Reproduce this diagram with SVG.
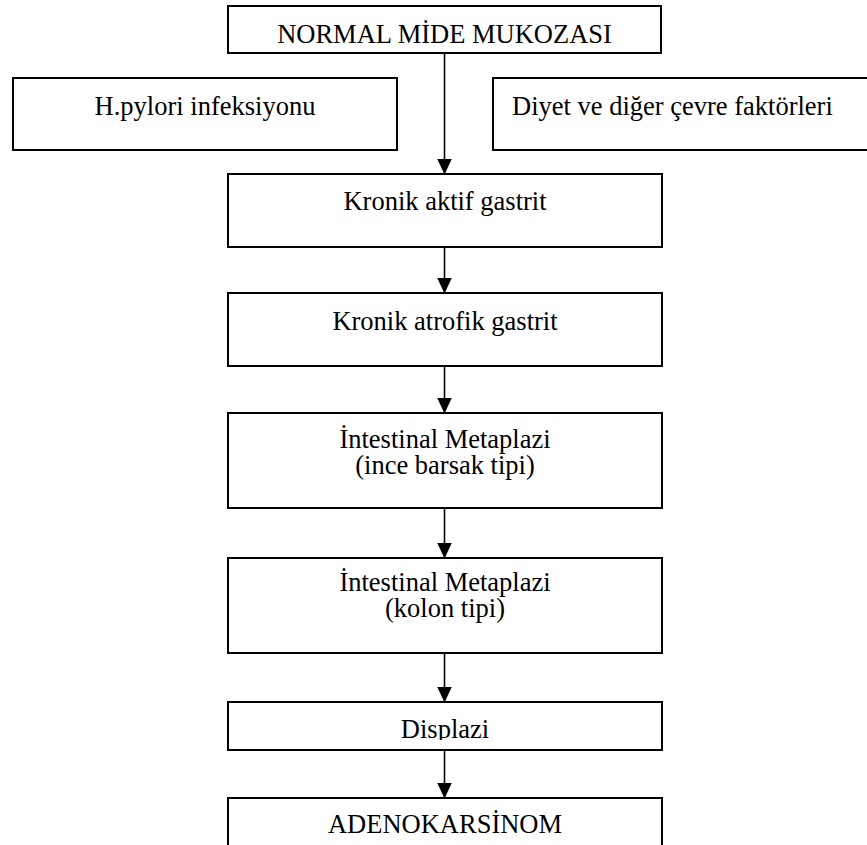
<svg xmlns="http://www.w3.org/2000/svg" width="867" height="845" viewBox="0 0 867 845">
<style>
.box{fill:#fff;stroke:#000;stroke-width:2}
.t{font-family:"Liberation Serif","Times New Roman",serif;font-size:26.5px;fill:#000;text-anchor:middle}
.c{stroke:#000;stroke-width:1.6;fill:none}
</style>
<defs>
<marker id="ah" markerWidth="16" markerHeight="16" viewBox="0 0 16 16" refX="15.5" refY="8" orient="auto" markerUnits="userSpaceOnUse">
<path d="M0,0.5 L16,8 L0,15.5 Z" fill="#000"/>
</marker>
<clipPath id="clipD"><rect x="228" y="702" width="434" height="38"/></clipPath>
</defs>
<rect width="867" height="845" fill="#fff"/>
<g id="connectors">
<line class="c" x1="444.5" y1="53" x2="444.5" y2="174" marker-end="url(#ah)"/>
<line class="c" x1="444.5" y1="247" x2="444.5" y2="293" marker-end="url(#ah)"/>
<line class="c" x1="444.5" y1="366" x2="444.5" y2="413" marker-end="url(#ah)"/>
<line class="c" x1="444.5" y1="508" x2="444.5" y2="558" marker-end="url(#ah)"/>
<line class="c" x1="444.5" y1="653" x2="444.5" y2="702" marker-end="url(#ah)"/>
<line class="c" x1="444.5" y1="750" x2="444.5" y2="798" marker-end="url(#ah)"/>
</g>
<g id="normal">
<rect class="box" x="228" y="6" width="433" height="47"/>
<text class="t" x="444.5" y="43">NORMAL MİDE MUKOZASI</text>
</g>
<g id="hpylori">
<rect class="box" x="13" y="78" width="384" height="72"/>
<text class="t" x="205" y="115">H.pylori infeksiyonu</text>
</g>
<g id="diyet">
<rect class="box" x="493" y="78" width="380" height="72"/>
<text class="t" x="512" y="115" style="text-anchor:start">Diyet ve diğer çevre faktörleri</text>
</g>
<g id="aktif">
<rect class="box" x="228" y="174" width="434" height="73"/>
<text class="t" x="445" y="210">Kronik aktif gastrit</text>
</g>
<g id="atrofik">
<rect class="box" x="228" y="293" width="434" height="73"/>
<text class="t" x="445" y="330">Kronik atrofik gastrit</text>
</g>
<g id="im-ince">
<rect class="box" x="228" y="413" width="434" height="95"/>
<text class="t" x="445" y="448">İntestinal Metaplazi</text>
<text class="t" x="445" y="474">(ince barsak tipi)</text>
</g>
<g id="im-kolon">
<rect class="box" x="228" y="558" width="434" height="95"/>
<text class="t" x="445" y="591">İntestinal Metaplazi</text>
<text class="t" x="445" y="617">(kolon tipi)</text>
</g>
<g id="displazi">
<rect class="box" x="228" y="702" width="434" height="48"/>
<text class="t" x="445" y="738" clip-path="url(#clipD)">Displazi</text>
</g>
<g id="adeno">
<rect class="box" x="228" y="798" width="434" height="60"/>
<text class="t" x="445" y="833">ADENOKARSİNOM</text>
</g>
</svg>
